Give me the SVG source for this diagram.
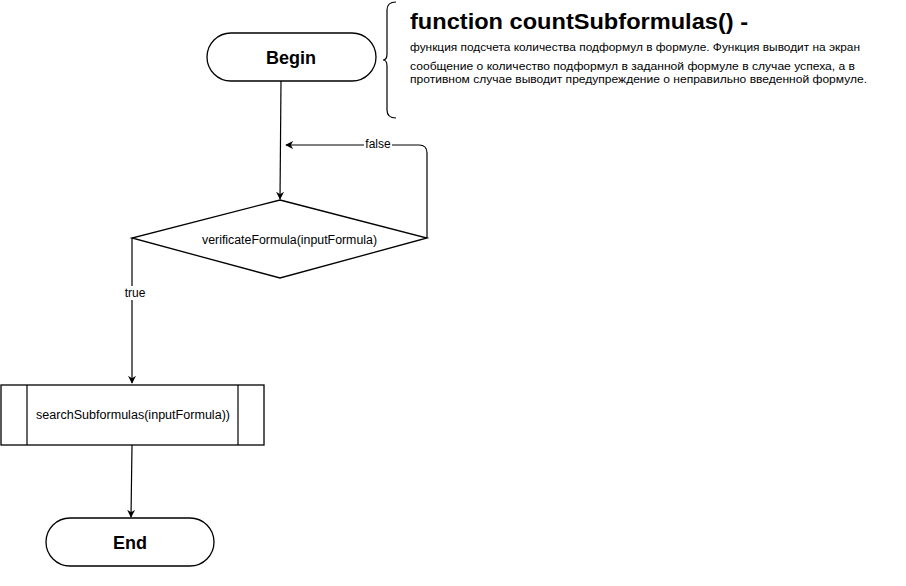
<svg xmlns="http://www.w3.org/2000/svg" width="906" height="586" viewBox="0 0 906 586">
<defs>
<marker id="arr" viewBox="0 0 10 10" refX="9" refY="5" markerWidth="8" markerHeight="8" markerUnits="userSpaceOnUse" orient="auto">
<path d="M0,0 L10,5 L0,10 L3,5 Z" fill="#000"/>
</marker>
<style>
.shape{fill:#fff;stroke:#000;stroke-width:1.3}
.edge{fill:none;stroke:#000;stroke-width:1.2}
.t{font-family:"Liberation Sans",Arial,sans-serif;fill:#000}
.big{font-size:18px;font-weight:bold}
.small{font-size:11.5px}
.lbl{font-size:12px}
</style>
</defs>
<rect width="906" height="586" fill="#fff"/>
<g id="connectors">
<path class="edge" d="M281,81 L280,199" marker-end="url(#arr)"/>
<path class="edge" d="M427,238 L427,153 Q427,145 419,145 L286,145" marker-end="url(#arr)"/>
<rect x="364" y="138" width="28" height="14" fill="#fff"/>
<text class="t lbl" x="378" y="148" text-anchor="middle">false</text>
<path class="edge" d="M132,238 L132,383" marker-end="url(#arr)"/>
<rect x="122" y="286" width="26" height="14" fill="#fff"/>
<text class="t lbl" x="135" y="297" text-anchor="middle">true</text>
<path class="edge" d="M132,445 L131,517" marker-end="url(#arr)"/>
</g>
<g id="begin">
<rect class="shape" x="207" y="33" width="169" height="48" rx="24" ry="24"/>
<text class="t big" x="291" y="64" text-anchor="middle">Begin</text>
</g>
<g id="comment">
<path class="edge" d="M396,2 Q387,2 387,10 L387,54 Q387,60 383,60 Q387,60 387,66 L387,110 Q387,118 396,118"/>
<text class="t" x="410" y="29" font-size="22.5" font-weight="bold" textLength="338" lengthAdjust="spacingAndGlyphs">function countSubformulas() -</text>
<text class="t small" x="410" y="51" textLength="450" lengthAdjust="spacingAndGlyphs">функция подсчета количества подформул в формуле. Функция выводит на экран</text>
<text class="t small" x="410" y="70" textLength="445" lengthAdjust="spacingAndGlyphs">сообщение о количество подформул в заданной формуле в случае успеха, а в</text>
<text class="t small" x="410" y="83" textLength="457" lengthAdjust="spacingAndGlyphs">противном случае выводит предупреждение о неправильно введенной формуле.</text>
</g>
<g id="verify">
<path class="shape" d="M280,200 L427,238 L280,278 L132,238 Z"/>
<text class="t lbl" x="289.5" y="244" text-anchor="middle" textLength="175" lengthAdjust="spacingAndGlyphs">verificateFormula(inputFormula)</text>
</g>
<g id="search">
<rect class="shape" x="1" y="385" width="263" height="60"/>
<line class="edge" x1="27" y1="385" x2="27" y2="445"/>
<line class="edge" x1="238" y1="385" x2="238" y2="445"/>
<text class="t lbl" x="133" y="419" text-anchor="middle" textLength="194" lengthAdjust="spacingAndGlyphs">searchSubformulas(inputFormula))</text>
</g>
<g id="end">
<rect class="shape" x="46" y="518" width="168" height="48" rx="24" ry="24"/>
<text class="t big" x="130" y="549" text-anchor="middle">End</text>
</g>
</svg>
